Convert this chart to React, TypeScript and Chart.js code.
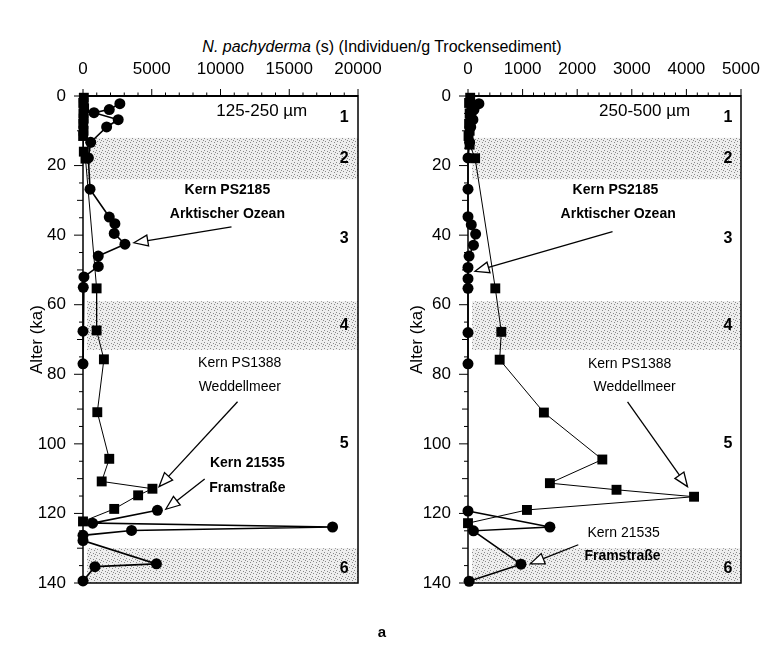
import React, { useEffect, useRef } from "react";
import { Chart, registerables } from "chart.js";
Chart.register(...registerables);

const FONT = '"Liberation Sans", Arial, Helvetica, sans-serif';

// ---- shared age axis / stages ----
const STAGE_BANDS = [[12, 24], [59, 73], [130, 140]];
const STAGE_LABELS = ["1", "2", "3", "4", "5", "6"];
const STAGE_AGES = [6.3, 18, 41, 66, 100, 136];

// ---- left panel 125-250 µm ----
const L_PS2185_AGE = [2.2, 3.9, 4.8, 6.8, 8.9, 13.3, 17.8, 26.8, 34.8, 36.7, 39.5, 42.6, 46, 49, 52, 55, 67.6, 77];
const L_PS2185_VAL = [2680, 1910, 800, 2560, 1720, 560, 390, 510, 1910, 2320, 2270, 3050, 1110, 1110, 70, 20, 0, 0];
const L_PS1388_AGE = [0.5, 2, 3.5, 5, 6.5, 8, 10, 11.5, 16, 18, 55.3, 67.4, 75.7, 90.9, 104.3, 110.8, 112.9, 114.8, 118.7, 122.3];
const L_PS1388_VAL = [60, 20, 80, 30, 50, 20, 40, 10, 60, 180, 990, 990, 1520, 1040, 1910, 1360, 5050, 4010, 2270, 0];
const L_21535_AGE = [119.1, 122.8, 123.9, 124.9, 126.3, 127.8, 134.5, 135.3, 139.4];
const L_21535_VAL = [5410, 700, 18150, 3530, 0, 0, 5340, 870, 0];

// ---- right panel 250-500 µm ----
const R_PS2185_AGE = [2.2, 3.9, 4.8, 6.8, 8.9, 13.3, 17.8, 26.8, 34.7, 37, 39.7, 42.9, 46, 49.3, 52.5, 55.3, 68, 77];
const R_PS2185_VAL = [200, 110, 60, 90, 50, 30, 0, 0, 0, 60, 140, 100, 20, 0, 0, 0, 0, 0];
const R_PS1388_AGE = [0.5, 2, 3.5, 5, 6.5, 8, 10, 11.5, 14, 17.9, 55.3, 67.8, 75.8, 91, 104.5, 111.3, 113.2, 115.2, 119, 122.8];
const R_PS1388_VAL = [40, 20, 60, 30, 40, 20, 30, 10, 30, 130, 500, 610, 580, 1390, 2460, 1500, 2720, 4140, 1080, 0];
const R_21535_AGE = [119.3, 123.9, 125, 134.6, 139.5];
const R_21535_VAL = [0, 1500, 100, 970, 20];

// ---- annotations (data units: value, age) ----
const L_TEXTS = [
  { t: "125-250 µm", x: 13000, y: 4.5, bold: false, size: 17 },
  { t: "Kern PS2185", x: 10500, y: 27.2, bold: true, size: 14 },
  { t: "Arktischer Ozean", x: 10500, y: 34.1, bold: true, size: 14 },
  { t: "Kern PS1388", x: 11400, y: 76.7, bold: false, size: 14 },
  { t: "Weddellmeer", x: 11400, y: 83.6, bold: false, size: 14 },
  { t: "Kern 21535", x: 11950, y: 105.5, bold: true, size: 14 },
  { t: "Framstraße", x: 11950, y: 112.7, bold: true, size: 14 },
];
const L_ARROWS = [
  { x0: 10800, y0: 37.6, x1: 3700, y1: 42.2 },
  { x0: 11240, y0: 87.9, x1: 5530, y1: 112.3 },
  { x0: 8850, y0: 110.1, x1: 6020, y1: 118.8 },
];
const R_TEXTS = [
  { t: "250-500 µm", x: 3235, y: 4.5, bold: false, size: 17 },
  { t: "Kern PS2185", x: 2700, y: 27.2, bold: true, size: 14 },
  { t: "Arktischer Ozean", x: 2750, y: 34.1, bold: true, size: 14 },
  { t: "Kern PS1388", x: 2960, y: 77, bold: false, size: 14 },
  { t: "Weddellmeer", x: 3050, y: 83.6, bold: false, size: 14 },
  { t: "Kern 21535", x: 2850, y: 125.6, bold: false, size: 14 },
  { t: "Framstraße", x: 2830, y: 132.2, bold: true, size: 14 },
];
const R_ARROWS = [
  { x0: 2647, y0: 39, x1: 129, y1: 50.4 },
  { x0: 2922, y0: 87.9, x1: 4020, y1: 112.3 },
  { x0: 2020, y0: 129, x1: 1140, y1: 134.5 },
];

function makePattern(ctx) {
  const c = document.createElement("canvas");
  c.width = 6;
  c.height = 6;
  const p = c.getContext("2d");
  p.fillStyle = "#eeeeee";
  p.fillRect(0, 0, 6, 6);
  p.fillStyle = "#8a8a8a";
  [[0, 0], [3, 1], [1, 3], [4, 4], [5, 2]].forEach(([a, b]) => p.fillRect(a, b, 1, 1));
  return ctx.createPattern(c, "repeat");
}

function decorPlugin(texts, arrows, stageX, majorX) {
  return {
    id: "decor",
    beforeDatasetsDraw(chart) {
      const { ctx, chartArea: a, scales } = chart;
      const y = scales.y;
      ctx.save();
      ctx.fillStyle = makePattern(ctx);
      STAGE_BANDS.forEach(([s, e]) => {
        const ys = y.getPixelForValue(s);
        const ye = y.getPixelForValue(e);
        ctx.fillRect(a.left + 4, ys, a.right - a.left - 4, ye - ys);
      });
      ctx.restore();
    },
    afterDatasetsDraw(chart) {
      const { ctx, chartArea: a, scales } = chart;
      const xs = scales.x;
      const ys = scales.y;
      ctx.save();
      // frame
      ctx.strokeStyle = "#000";
      ctx.lineWidth = 1.5;
      ctx.strokeRect(a.left, a.top, a.right - a.left, a.bottom - a.top);
      ctx.lineWidth = 2;
      ctx.beginPath();
      ctx.moveTo(a.left, a.top);
      ctx.lineTo(a.right, a.top);
      ctx.stroke();
      // x ticks (top, outward)
      ctx.lineWidth = 1;
      xs.ticks.forEach((t) => {
        const px = xs.getPixelForValue(t.value);
        const len = Math.abs(t.value % majorX) < 1e-6 ? 7 : 3.5;
        ctx.beginPath();
        ctx.moveTo(px, a.top);
        ctx.lineTo(px, a.top - len);
        ctx.stroke();
      });
      // y ticks (left, outward)
      ys.ticks.forEach((t) => {
        const py = ys.getPixelForValue(t.value);
        const len = t.value % 20 === 0 ? 9 : t.value % 10 === 0 ? 6 : 4;
        ctx.beginPath();
        ctx.moveTo(a.left, py);
        ctx.lineTo(a.left - len, py);
        ctx.stroke();
      });
      // stage numbers
      ctx.fillStyle = "#000";
      ctx.textAlign = "center";
      ctx.textBaseline = "middle";
      ctx.font = `bold 16px ${FONT}`;
      STAGE_LABELS.forEach((s, i) => {
        ctx.fillText(s, xs.getPixelForValue(stageX), ys.getPixelForValue(STAGE_AGES[i]));
      });
      // texts
      texts.forEach((t) => {
        ctx.font = `${t.bold ? "bold " : ""}${t.size}px ${FONT}`;
        ctx.fillText(t.t, xs.getPixelForValue(t.x), ys.getPixelForValue(t.y));
      });
      // arrows
      arrows.forEach((ar) => {
        const x0 = xs.getPixelForValue(ar.x0);
        const y0 = ys.getPixelForValue(ar.y0);
        const x1 = xs.getPixelForValue(ar.x1);
        const y1 = ys.getPixelForValue(ar.y1);
        const dx = x1 - x0;
        const dy = y1 - y0;
        const L = Math.hypot(dx, dy);
        const ux = dx / L;
        const uy = dy / L;
        const hl = 14;
        const hw = 5.5;
        const bx = x1 - ux * hl;
        const by = y1 - uy * hl;
        ctx.lineWidth = 1.3;
        ctx.beginPath();
        ctx.moveTo(x0, y0);
        ctx.lineTo(bx, by);
        ctx.stroke();
        ctx.beginPath();
        ctx.moveTo(x1, y1);
        ctx.lineTo(bx - uy * hw, by + ux * hw);
        ctx.lineTo(bx + uy * hw, by - ux * hw);
        ctx.closePath();
        ctx.fillStyle = "#fff";
        ctx.fill();
        ctx.stroke();
      });
      ctx.restore();
    },
  };
}

function toPts(ages, vals) {
  return ages.map((a, i) => ({ x: vals[i], y: a }));
}

function Panel({ left, axisWidth, rightPad, xMax, xStep, majorX, titlePad, series, texts, arrows, stageX }) {
  const ref = useRef(null);
  useEffect(() => {
    const ds = [
      { data: toPts(series[0][0], series[0][1]), pointStyle: "circle", pointRadius: 5.5, borderWidth: 1.6 },
      { data: toPts(series[1][0], series[1][1]), pointStyle: "rect", pointRadius: 7, borderWidth: 1 },
      { data: toPts(series[2][0], series[2][1]), pointStyle: "circle", pointRadius: 5.5, borderWidth: 1.6 },
    ].map((d) => ({
      ...d,
      showLine: true,
      tension: 0,
      borderColor: "#000",
      backgroundColor: "#000",
      pointBackgroundColor: "#000",
      pointBorderColor: "#000",
      pointBorderWidth: 0,
      clip: false,
    }));
    const chart = new Chart(ref.current, {
      type: "scatter",
      data: { datasets: ds },
      options: {
        animation: false,
        responsive: false,
        events: [],
        layout: { padding: { left: 0, top: 0, right: rightPad, bottom: 71 } },
        plugins: { legend: { display: false }, tooltip: { enabled: false } },
        scales: {
          x: {
            type: "linear",
            position: "top",
            min: 0,
            max: xMax,
            grid: { display: false, drawTicks: false },
            border: { display: false },
            ticks: {
              stepSize: xStep,
              autoSkip: false,
              maxRotation: 0,
              padding: 16,
              color: "#000",
              font: { family: FONT, size: 17 },
              callback: (v) => (Math.abs(v % majorX) < 1e-6 ? String(v) : ""),
            },
            afterFit: (s) => {
              s.height = 96;
              s.paddingLeft = 0;
              s.paddingRight = 0;
            },
          },
          y: {
            type: "linear",
            reverse: true,
            min: 0,
            max: 140,
            grid: { display: false, drawTicks: false },
            border: { display: false },
            ticks: {
              stepSize: 5,
              autoSkip: false,
              padding: 17,
              color: "#000",
              font: { family: FONT, size: 17 },
              callback: (v) => (v % 20 === 0 ? String(v) : ""),
            },
            title: {
              display: true,
              text: "Alter (ka)",
              color: "#000",
              font: { family: FONT, size: 17 },
              padding: { top: titlePad, bottom: 0 },
            },
            afterFit: (s) => {
              s.width = axisWidth;
              s.paddingTop = 0;
              s.paddingBottom = 0;
            },
          },
        },
      },
      plugins: [decorPlugin(texts, arrows, stageX, majorX)],
    });
    return () => chart.destroy();
  }, []);
  return (
    <canvas
      ref={ref}
      width={382}
      height={654}
      style={{ position: "absolute", left, top: 0, width: 382, height: 654 }}
    />
  );
}

export default function App() {
  return (
    <div style={{ position: "absolute", left: 0, top: 0, width: 764, height: 654, background: "#fff", fontFamily: FONT }}>
      <div style={{ position: "absolute", left: 0, top: 38, width: 764, textAlign: "center", fontSize: 16, lineHeight: "18px", color: "#000" }}>
        <i>N. pachyderma</i> (s) (Individuen/g Trockensediment)
      </div>
      <Panel
        left={0}
        axisWidth={83}
        rightPad={24}
        xMax={20000}
        xStep={1000}
        majorX={5000}
        titlePad={27}
        series={[[L_PS2185_AGE, L_PS2185_VAL], [L_PS1388_AGE, L_PS1388_VAL], [L_21535_AGE, L_21535_VAL]]}
        texts={L_TEXTS}
        arrows={L_ARROWS}
        stageX={19000}
      />
      <Panel
        left={382}
        axisWidth={86}
        rightPad={23}
        xMax={5000}
        xStep={200}
        majorX={1000}
        titlePad={25}
        series={[[R_PS2185_AGE, R_PS2185_VAL], [R_PS1388_AGE, R_PS1388_VAL], [R_21535_AGE, R_21535_VAL]]}
        texts={R_TEXTS}
        arrows={R_ARROWS}
        stageX={4760}
      />
      <div style={{ position: "absolute", left: 0, top: 623, width: 764, textAlign: "center", fontSize: 15, fontWeight: "bold", lineHeight: "18px", color: "#000" }}>
        a
      </div>
    </div>
  );
}
